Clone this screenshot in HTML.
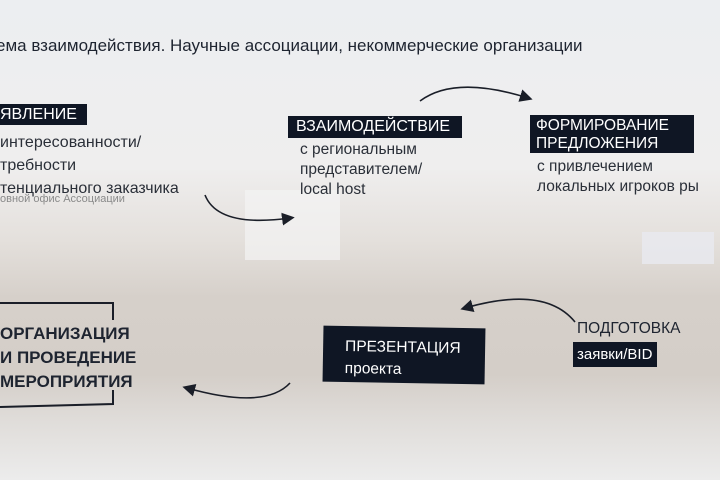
<!DOCTYPE html><html><head><meta charset="utf-8"><style>
body{margin:0;width:720px;height:480px;overflow:hidden;position:relative;font-family:"Liberation Sans","DejaVu Sans",sans-serif;
background:linear-gradient(180deg,#eceef1 0%,#efeeee 35%,#e4e0dc 50%,#d6d0ca 62%,#d4cec8 78%,#e0ddda 88%,#ececec 100%);}
.a{position:absolute;white-space:nowrap;color:#1e2430}
.box{position:absolute;background:#0f1624;color:#fff;white-space:nowrap}
.t{font-size:15.5px;line-height:20px;color:#2a2f38}
</style></head><body>
<div style="position:absolute;left:245px;top:190px;width:95px;height:70px;background:#f3f3f3;opacity:.7"></div>
<div style="position:absolute;left:642px;top:232px;width:72px;height:32px;background:#e8eaf0;opacity:.8"></div>
<div class="a" style="left:-4px;top:36px;font-size:17px">ема взаимодействия. Научные ассоциации, некоммерческие организации</div>

<div class="box" style="left:0;top:104px;width:87px;height:21px;font-size:16px;line-height:21px">ЯВЛЕНИЕ</div>
<div class="a t" style="left:0;top:131px;font-size:16px;line-height:23px">интересованности/<br>требности<br>тенциального заказчика</div>
<div class="a" style="left:0;top:193px;font-size:11px;color:#8a8a8a">овной офис Ассоциации</div>

<div class="box" style="left:288px;top:116px;width:174px;height:22px;font-size:16px;line-height:22px;padding-left:8px;box-sizing:border-box">ВЗАИМОДЕЙСТВИЕ</div>
<div class="a t" style="left:300px;top:140px">с региональным<br>представителем/<br>local host</div>

<div class="box" style="left:530px;top:115px;width:164px;height:38px;font-size:15.5px;line-height:18px;padding:2px 6px;box-sizing:border-box">ФОРМИРОВАНИЕ<br>ПРЕДЛОЖЕНИЯ</div>
<div class="a t" style="left:537px;top:157px">с привлечением<br>локальных игроков ры</div>

<div class="a" style="left:0;top:322px;font-size:17px;font-weight:bold;line-height:24px">ОРГАНИЗАЦИЯ<br>И ПРОВЕДЕНИЕ<br>МЕРОПРИЯТИЯ</div>

<div class="box" style="left:323px;top:327px;width:162px;height:56px;font-size:15.5px;line-height:22px;padding:10px 22px;box-sizing:border-box;transform:rotate(1deg)">ПРЕЗЕНТАЦИЯ<br>проекта</div>

<div class="a" style="left:577px;top:320px;font-size:15.5px">ПОДГОТОВКА</div>
<div class="box" style="left:573px;top:342px;width:84px;height:25px;font-size:15px;line-height:25px;padding-left:4px;box-sizing:border-box">заявки/BID</div>

<svg width="720" height="480" style="position:absolute;left:0;top:0" fill="none" stroke="#1a1e28" stroke-width="1.6">
<defs><marker id="m" markerWidth="8" markerHeight="8" refX="5" refY="4" orient="auto"><path d="M0,0L8,4L0,8z" fill="#1a1e28" stroke="none"/></marker></defs>
<path d="M0,303 H113 V320" stroke-width="2"/>
<path d="M0,407 L113,404 V390" stroke-width="2"/>
<path d="M420,101 Q455,75 528,98" marker-end="url(#m)"/>
<path d="M205,195 Q218,228 290,218" marker-end="url(#m)"/>
<path d="M575,322 Q545,285 465,308" marker-end="url(#m)"/>
<path d="M290,383 Q265,410 187,388" marker-end="url(#m)"/>
</svg>
</body></html>
